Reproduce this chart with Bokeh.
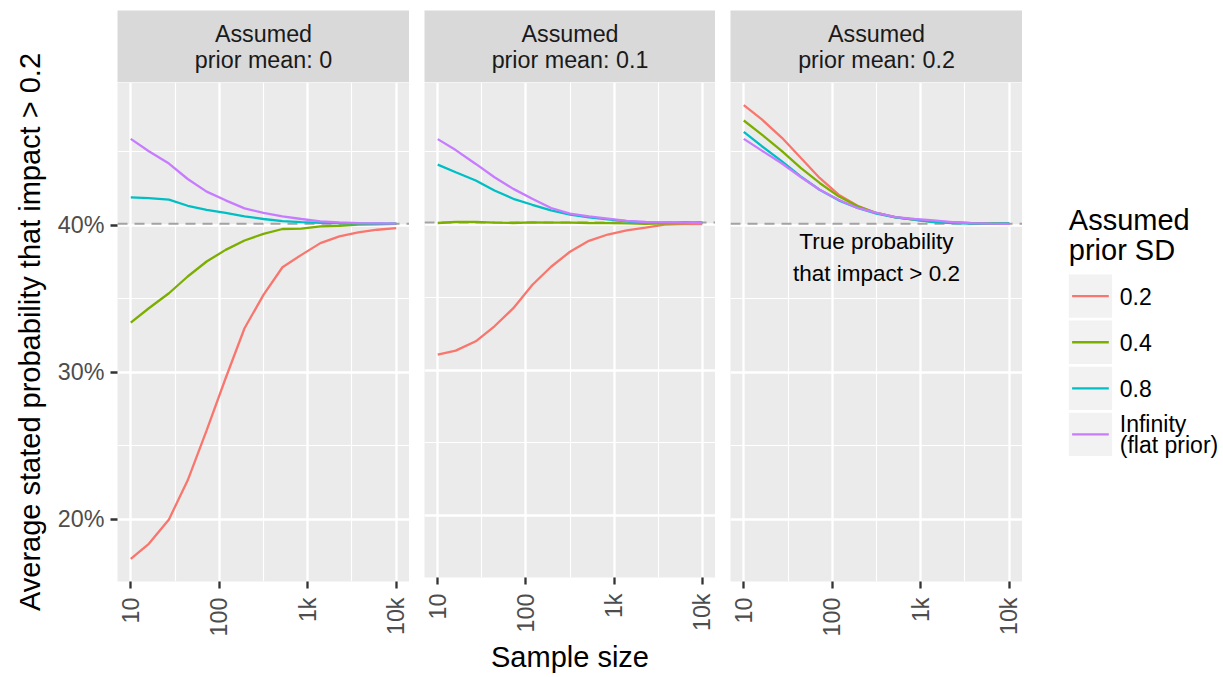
import math
from bokeh.plotting import figure
from bokeh.layouts import row, column
from bokeh.models import Range1d, FixedTicker, PrintfTickFormatter, Span
from bokeh.core.properties import value
from bokeh.embed import file_html
from bokeh.resources import INLINE

# ---------------- data ----------------
sample_size = [10, 16, 27, 44, 72, 118, 193, 316, 518, 848, 1389, 2276, 3728, 6105, 10000]
prior_means = ["0", "0.1", "0.2"]
prior_sd_labels = ["0.2", "0.4", "0.8", "Infinity\n(flat prior)"]
sd_colors = ["#F8766D", "#7CAE00", "#00BFC4", "#C77CFF"]
true_prob = 40.11  # percent

# prior mean 0
m0_sd02 = [17.32, 18.34, 20.0, 22.66, 26.06, 29.6, 33.0, 35.27, 37.15, 37.99, 38.79, 39.25, 39.52, 39.7, 39.81]
m0_sd04 = [33.38, 34.36, 35.38, 36.52, 37.54, 38.33, 38.97, 39.42, 39.75, 39.77, 39.93, 39.97, 40.05, 40.07, 40.1]
m0_sd08 = [41.9, 41.85, 41.75, 41.33, 41.05, 40.84, 40.61, 40.43, 40.29, 40.22, 40.17, 40.15, 40.13, 40.12, 40.11]
m0_sdinf = [45.88, 45.04, 44.2, 43.15, 42.29, 41.7, 41.15, 40.84, 40.61, 40.43, 40.27, 40.2, 40.15, 40.13, 40.11]
# prior mean 0.1
m1_sd02 = [31.06, 31.33, 31.97, 33.0, 34.24, 35.83, 37.08, 38.11, 38.86, 39.29, 39.58, 39.77, 39.97, 40.0, 40.0]
m1_sd04 = [40.08, 40.15, 40.15, 40.1, 40.08, 40.12, 40.1, 40.1, 40.08, 40.07, 40.05, 40.03, 40.06, 40.08, 40.1]
m1_sd08 = [44.08, 43.56, 42.99, 42.31, 41.74, 41.33, 40.95, 40.65, 40.47, 40.33, 40.2, 40.11, 40.11, 40.13, 40.11]
m1_sdinf = [45.83, 45.08, 44.13, 43.22, 42.42, 41.74, 41.11, 40.72, 40.54, 40.38, 40.22, 40.15, 40.13, 40.1, 40.08]
# prior mean 0.2
m2_sd02 = [48.17, 47.2, 45.95, 44.59, 43.22, 42.08, 41.33, 40.84, 40.56, 40.38, 40.27, 40.2, 40.15, 40.11, 40.11]
m2_sd04 = [47.13, 46.17, 45.04, 43.9, 42.88, 41.97, 41.29, 40.84, 40.54, 40.38, 40.24, 40.2, 40.15, 40.11, 40.11]
m2_sd08 = [46.36, 45.38, 44.35, 43.33, 42.42, 41.7, 41.18, 40.79, 40.54, 40.38, 40.22, 40.15, 40.12, 40.11, 40.13]
m2_sdinf = [45.88, 45.08, 44.2, 43.29, 42.42, 41.74, 41.18, 40.84, 40.56, 40.43, 40.34, 40.22, 40.15, 40.11, 40.1]

panels_data = [
    [m0_sd02, m0_sd04, m0_sd08, m0_sdinf],
    [m1_sd02, m1_sd04, m1_sd08, m1_sdinf],
    [m2_sd02, m2_sd04, m2_sd08, m2_sdinf],
]

x_tick_values = [10, 100, 1000, 10000]
x_tick_labels = ["10", "100", "1k", "10k"]
y_tick_values = [20, 30, 40]

y_title = "Average stated probability that impact > 0.2"
x_title = "Sample size"
legend_title = "Assumed\nprior SD"
annotation_text = "True probability\nthat impact > 0.2"

# ---------------- layout / style ----------------
FONT = "Liberation Sans"
FRAME_W = [292, 291, 292]
FH = 499
STRIP_TOP = 10
STRIP_H = 72
BOTTOM = 95
TITLE_W = 50
LEFT1, GAP = 67, 15
LEG_W = 199
TOTAL_H = STRIP_TOP + STRIP_H + FH + BOTTOM

all_vals = [v for panel in panels_data for s in panel for v in s]
lo, hi = min(all_vals), max(all_vals)
pad = 0.05 * (hi - lo)
y_range = Range1d(lo - pad, hi + pad)
lx0, lx1 = math.log10(sample_size[0]), math.log10(sample_size[-1])
lpad = 0.05 * (lx1 - lx0)

x_minor = [math.sqrt(a * b) for a, b in zip(x_tick_values[:-1], x_tick_values[1:])]
y_step = y_tick_values[1] - y_tick_values[0]
y_minor = [t - y_step / 2 for t in y_tick_values] + [y_tick_values[-1] + y_step / 2]


def bare(fig):
    fig.border_fill_color = "white"
    fig.outline_line_color = None
    fig.grid.visible = False


def make_ytitle():
    t = figure(width=TITLE_W, height=TOTAL_H, x_range=Range1d(0, TITLE_W), y_range=Range1d(TOTAL_H, 0),
               x_axis_location=None, y_axis_location=None, output_backend="svg",
               toolbar_location=None, min_border=0)
    t.background_fill_color = "white"
    bare(t)
    t.text(x=[29], y=[STRIP_TOP + STRIP_H + FH / 2], text=[y_title], angle=math.pi / 2,
           text_align="center", text_baseline="middle", text_font=value(FONT),
           text_font_size="29px", text_color="black")
    return t


def make_strip(i):
    left = LEFT1 if i == 0 else GAP
    s = figure(width=left + FRAME_W[i], height=STRIP_TOP + STRIP_H, x_range=Range1d(0, 1),
               y_range=Range1d(0, 1), x_axis_location=None, y_axis_location=None,
               output_backend="svg", toolbar_location=None, min_border_left=left,
               min_border_right=0, min_border_top=STRIP_TOP, min_border_bottom=0)
    s.background_fill_color = "#D9D9D9"
    bare(s)
    s.text(x=[0.5], y=[0.5], text=[f"Assumed\nprior mean: {prior_means[i]}"],
           text_align="center", text_baseline="middle", text_font=value(FONT),
           text_font_size="23.3px", text_color="#1A1A1A", text_line_height=1.0)
    return s


def make_panel(i):
    left = LEFT1 if i == 0 else GAP
    p = figure(width=left + FRAME_W[i], height=FH + BOTTOM, x_axis_type="log",
               x_range=Range1d(10 ** (lx0 - lpad), 10 ** (lx1 + lpad)), y_range=y_range,
               y_axis_location="left" if i == 0 else None,
               output_backend="svg", toolbar_location=None,
               min_border_left=left, min_border_right=0, min_border_top=0,
               min_border_bottom=BOTTOM)
    p.background_fill_color = "#EBEBEB"
    p.border_fill_color = "white"
    p.outline_line_color = None

    p.xgrid.ticker = FixedTicker(ticks=x_tick_values, minor_ticks=x_minor)
    p.ygrid.ticker = FixedTicker(ticks=y_tick_values, minor_ticks=y_minor)
    for g in (p.xgrid, p.ygrid):
        g.grid_line_color = "white"
        g.grid_line_width = 2.3
        g.minor_grid_line_color = "white"
        g.minor_grid_line_width = 1.15

    xa = p.xaxis[0]
    xa.ticker = FixedTicker(ticks=x_tick_values, minor_ticks=x_minor)
    xa.major_label_overrides = dict(zip(x_tick_values, x_tick_labels))
    xa.major_label_orientation = math.pi / 2
    xa.major_label_standoff = 9
    axes = [xa]
    if i == 0:
        ya = p.yaxis[0]
        ya.ticker = FixedTicker(ticks=y_tick_values, minor_ticks=y_minor)
        ya.formatter = PrintfTickFormatter(format="%d%%")
        ya.major_label_standoff = 6
        axes.append(ya)
    if i == 1:
        xa.axis_label = x_title
        xa.axis_label_standoff = 6
    for a in axes:
        a.axis_line_color = None
        a.major_tick_line_color = "#333333"
        a.major_tick_line_width = 2.3
        a.major_tick_out = 7
        a.major_tick_in = 0
        a.minor_tick_line_color = None
        a.major_label_text_font = FONT
        a.major_label_text_font_size = "23.3px"
        a.major_label_text_color = "#4D4D4D"
        a.axis_label_text_font = FONT
        a.axis_label_text_font_size = "29px"
        a.axis_label_text_font_style = "normal"
        a.axis_label_text_color = "black"

    span = Span(location=true_prob, dimension="width", line_color="#A3A3A3",
                line_width=2, line_dash="10 7", level="underlay")
    p.add_layout(span)

    for series, color in zip(panels_data[i], sd_colors):
        p.line(sample_size, series, line_color=color, line_width=2.3)

    if i == 2:
        p.text(x=[math.sqrt(sample_size[0] * sample_size[-1])], y=[37.8], text=[annotation_text],
               text_align="center", text_baseline="middle", text_font=value(FONT),
               text_font_size="22.5px", text_color="black", text_line_height=1.29)
    return p


def make_legend():
    lg = figure(width=LEG_W, height=TOTAL_H, x_range=Range1d(0, LEG_W), y_range=Range1d(TOTAL_H, 0),
                x_axis_location=None, y_axis_location=None, output_backend="svg",
                toolbar_location=None, min_border=0)
    lg.background_fill_color = "white"
    bare(lg)
    key_x, key_top, key_step, key = 46.3, 274, 46.1, 43.3
    centers = [key_top + key_step * k + key / 2 for k in range(len(prior_sd_labels))]
    lg.text(x=[key_x], y=[203], text=[legend_title], text_align="left", text_baseline="top",
            text_font=value(FONT), text_font_size="29px", text_color="black",
            text_line_height=0.95)
    lg.rect(x=[key_x + key / 2] * len(centers), y=centers, width=key, height=key,
            fill_color="#F2F2F2", line_color=None)
    lg.segment(x0=[key_x + 3.3] * len(centers), x1=[key_x + key - 3.3] * len(centers),
               y0=centers, y1=centers, line_color=sd_colors, line_width=2.3)
    lg.text(x=[97.3] * len(centers), y=centers, text=prior_sd_labels, text_align="left",
            text_baseline="middle", text_font=value(FONT), text_font_size="23px",
            text_color="black", text_line_height=0.8)
    return lg


cols = [column(make_strip(i), make_panel(i)) for i in range(3)]
layout = row(make_ytitle(), *cols, make_legend())

open("out.html", "w").write(file_html(layout, INLINE))
